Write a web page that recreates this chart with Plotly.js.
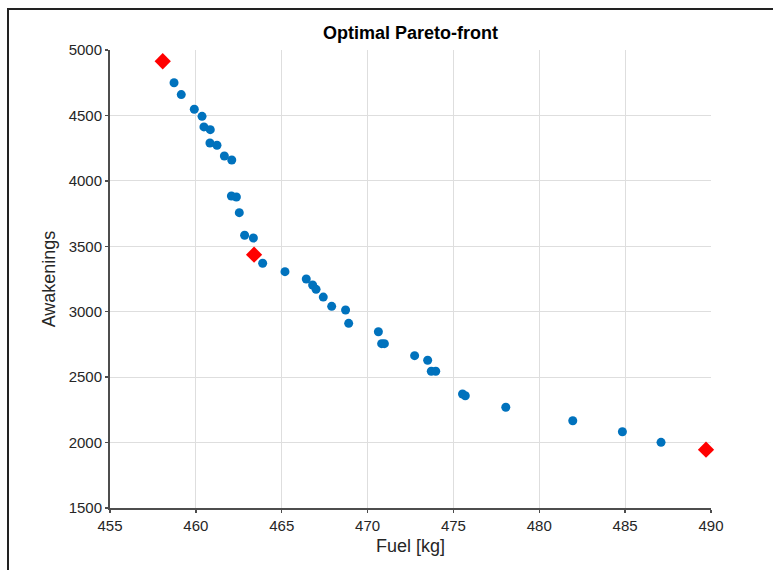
<!DOCTYPE html>
<html>
<head>
<meta charset="utf-8">
<script src="https://cdn.plot.ly/plotly-3.0.1.min.js"></script>
<style>
  html, body { margin: 0; padding: 0; background: #fff; }
  #chart { width: 773px; height: 570px; position: relative; }
  #frame { position: absolute; left: 7px; top: 8px; right: -5px; bottom: -5px;
           border-top: 2px solid #222; border-left: 2px solid #222; pointer-events: none; z-index: 10; }
</style>
</head>
<body>
<div id="chart"><div id="frame"></div></div>
<script>
// Pareto-front solutions
const fuel = [458.73, 459.15, 459.91, 460.36, 460.47, 460.84, 460.82, 461.23, 461.66, 462.09,
              462.07, 462.36, 462.53, 462.84, 463.35, 463.89, 465.19, 466.43, 466.80, 467.00,
              467.42, 467.91, 468.72, 468.90, 470.63, 470.82, 470.98, 472.74, 473.50, 473.71,
              473.97, 475.53, 475.69, 478.05, 481.95, 484.84, 487.09];
const awakenings = [4750, 4659, 4547, 4493, 4412, 4391, 4289, 4272, 4190, 4159,
                    3884, 3877, 3757, 3584, 3563, 3370, 3306, 3250, 3204, 3171,
                    3112, 3041, 3013, 2911, 2847, 2756, 2756, 2664, 2629, 2545,
                    2545, 2371, 2358, 2270, 2167, 2083, 2002];
// Highlighted solutions
const fuelSel = [458.07, 463.39, 489.71];
const awakeSel = [4914, 3436, 1946];

const xTicks = [455, 460, 465, 470, 475, 480, 485, 490];
const yTicks = [1500, 2000, 2500, 3000, 3500, 4000, 4500, 5000];

const traces = [
  { x: fuel, y: awakenings, type: 'scatter', mode: 'markers', cliponaxis: false,
    marker: { color: '#0072BD', size: 9, line: { width: 0 } }, hoverinfo: 'x+y' },
  { x: fuelSel, y: awakeSel, type: 'scatter', mode: 'markers', cliponaxis: false,
    marker: { color: '#FF0000', size: 12.5, symbol: 'diamond', line: { width: 0 } }, hoverinfo: 'x+y' }
];

const axisCommon = {
  showgrid: true, gridcolor: '#dedede', gridwidth: 1,
  showline: true, linecolor: '#4d4d4d', linewidth: 2,
  ticks: 'outside', ticklen: 3, tickwidth: 1.5, tickcolor: '#4d4d4d',
  zeroline: false, mirror: false,
  tickfont: { family: 'Liberation Sans, Arial, sans-serif', size: 15, color: '#262626' }
};

const layout = {
  width: 773, height: 570,
  margin: { l: 110, r: 62, t: 50, b: 62 },
  paper_bgcolor: '#ffffff', plot_bgcolor: '#ffffff',
  showlegend: false,
  title: { text: '<b>Optimal Pareto-front</b>', x: 0.5, xref: 'paper', xanchor: 'center',
           y: 0.942, yref: 'container', yanchor: 'middle',
           font: { family: 'Liberation Sans, Arial, sans-serif', size: 18, color: '#000' } },
  xaxis: Object.assign({}, axisCommon, {
    range: [455, 490], tickvals: xTicks, ticktext: xTicks.map(String),
    title: { text: 'Fuel [kg]', standoff: 6,
             font: { family: 'Liberation Sans, Arial, sans-serif', size: 18, color: '#262626' } }
  }),
  yaxis: Object.assign({}, axisCommon, {
    range: [1500, 5000], tickvals: yTicks, ticktext: yTicks.map(String),
    title: { text: 'Awakenings', standoff: 8,
             font: { family: 'Liberation Sans, Arial, sans-serif', size: 18, color: '#262626' } }
  })
};

Plotly.newPlot('chart', traces, layout, { staticPlot: true, displayModeBar: false });
</script>
</body>
</html>
